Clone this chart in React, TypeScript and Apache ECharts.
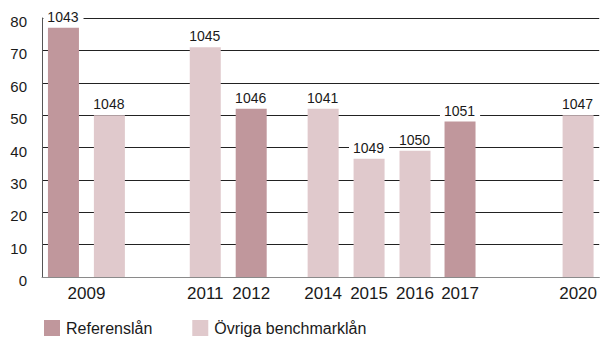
import React, { useEffect, useRef } from "react";
import * as echarts from "echarts";

// Bond loans, their outstanding volume and whether they are reference loans
const bonds = ["1043", "1048", "1045", "1046", "1041", "1049", "1050", "1051", "1047"];
const volumes = [77, 50, 71, 52, 52, 36.5, 39, 48, 50];
const isReference = [true, false, false, true, false, false, false, true, false];
// position of each bond along the maturity axis (in bar-slot units)
const positions = [0.467, 1.467, 3.554, 4.554, 6.12, 7.12, 8.12, 9.1, 11.67];

// maturity-year tick labels and their position along the axis
const yearLabels = ["2009", "2011", "2012", "2014", "2015", "2016", "2017", "2020"];
const yearPositions = [0.967, 3.554, 4.554, 6.12, 7.12, 8.12, 9.1, 11.67];

const yTicks = [0, 10, 20, 30, 40, 50, 60, 70, 80];

const seriesNames = ["Referenslån", "Övriga benchmarklån"];
const colors = ["#C0979C", "#E0C9CC"];

const FONT = "'Liberation Sans', Arial, Helvetica, sans-serif";

export default function App() {
  const ref = useRef<HTMLDivElement>(null);

  useEffect(() => {
    if (!ref.current) return;
    const chart = echarts.init(ref.current, undefined, { renderer: "svg" });

    const refData: any[] = [];
    const otherData: any[] = [];
    bonds.forEach((b, i) => {
      const item = [positions[i], volumes[i], b];
      if (isReference[i]) refData.push(item);
      else otherData.push(item);
    });

    const labelStyle = {
      show: true,
      position: "top" as const,
      distance: 4,
      formatter: (p: any) => p.data[2],
      fontFamily: FONT,
      fontSize: 14,
      color: "#1a1a1a",
      backgroundColor: "#ffffff",
      padding: [1, 5, 0, 4],
    };

    chart.setOption({
      animation: false,
      backgroundColor: "#ffffff",
      textStyle: { fontFamily: FONT },
      grid: { left: 42, right: 0, top: 18, bottom: 61, containLabel: false },
      legend: {
        left: 44,
        top: 320,
        padding: 0,
        itemWidth: 16,
        itemHeight: 16,
        itemGap: 40,
        icon: "rect",
        textStyle: { fontFamily: FONT, fontSize: 16, color: "#1a1a1a", padding: [0, 0, 0, 1] },
        data: seriesNames,
      },
      xAxis: {
        type: "value",
        min: 0,
        max: 12.13,
        splitLine: { show: false },
        axisLine: { show: true, lineStyle: { color: "#8a8a8a", width: 1 } },
        axisTick: { show: false },
        axisLabel: {
          customValues: yearPositions,
          formatter: (v: number) => {
            const idx = yearPositions.findIndex((p) => Math.abs(p - v) < 1e-6);
            return idx >= 0 ? yearLabels[idx] : "";
          },
          fontFamily: FONT,
          fontSize: 17,
          color: "#1a1a1a",
          margin: 8,
          showMinLabel: true,
          showMaxLabel: true,
          hideOverlap: false,
        },
      },
      yAxis: {
        type: "value",
        min: 0,
        max: 80,
        interval: 10,
        axisLine: { show: true, lineStyle: { color: "#555555", width: 1 } },
        axisTick: { show: false },
        splitLine: { show: true, lineStyle: { color: "#222222", width: 1 } },
        axisLabel: {
          fontFamily: FONT,
          fontSize: 15,
          color: "#1a1a1a",
          margin: 15,
          verticalAlign: "top",
          lineHeight: 7,
          formatter: (v: number) => (yTicks.includes(v) ? String(v) : ""),
        },
      },
      series: [
        {
          name: seriesNames[0],
          type: "bar",
          barWidth: 31,
          barGap: "-100%",
          itemStyle: { color: colors[0] },
          label: labelStyle,
          data: refData,
          z: 3,
        },
        {
          name: seriesNames[1],
          type: "bar",
          barWidth: 31,
          barGap: "-100%",
          itemStyle: { color: colors[1] },
          label: labelStyle,
          data: otherData,
          z: 3,
        },
      ],
    });

    return () => chart.dispose();
  }, []);

  return (
    <div
      ref={ref}
      style={{ position: "fixed", left: 0, top: 0, width: 600, height: 338 }}
    />
  );
}
